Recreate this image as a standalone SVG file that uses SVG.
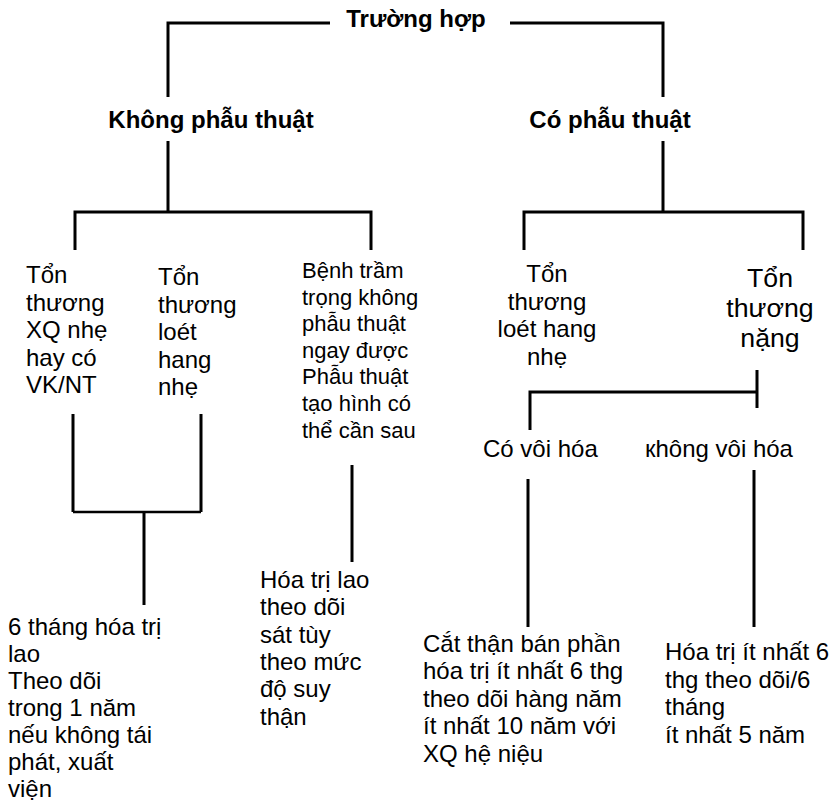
<svg xmlns="http://www.w3.org/2000/svg" width="835" height="804" viewBox="0 0 835 804">
<style>
text{font-family:"Liberation Sans",Arial,sans-serif;fill:#000;font-size:24px}
.b{font-weight:bold}
.c{text-anchor:middle}
.big{font-size:26.7px}
.sm{font-size:22px}
.ln{stroke:#000;stroke-width:3;fill:none}
.thin{stroke:#000;stroke-width:2.5;fill:none}
</style>
<rect width="835" height="804" fill="#fff"/>
<g id="connectors">
<path class="ln" d="M168 97V23H330M510 23H663V97"/>
<path class="ln" d="M168 141V212M75 250V212H371V250"/>
<path class="ln" d="M663 141V212M524 250V212H803V250"/>
<path class="ln" d="M73 414V512M201 414V512M144 512V605"/>
<path class="thin" d="M73 512H201"/>
<path class="ln" d="M352 465V562"/>
<path class="ln" d="M757 370V408M757 392H530V430"/>
<path class="ln" d="M528 479V627M754 470V627"/>
</g>
<g id="root"><text class="b c" x="416" y="27">Trường hợp</text></g>
<g id="khong-phau-thuat"><text class="b c" x="211" y="128">Không phẫu thuật</text></g>
<g id="co-phau-thuat"><text class="b c" x="610" y="128">Có phẫu thuật</text></g>
<g id="ton-thuong-xq"><text x="26" y="283"><tspan x="26">Tổn</tspan><tspan x="26" dy="27.5">thương</tspan><tspan x="26" dy="27.5">XQ nhẹ</tspan><tspan x="26" dy="27.5">hay có</tspan><tspan x="26" dy="27.5">VK/NT</tspan></text></g>
<g id="ton-thuong-loet"><text x="158" y="285"><tspan x="158">Tổn</tspan><tspan x="158" dy="27.5">thương</tspan><tspan x="158" dy="27.5">loét</tspan><tspan x="158" dy="27.5">hang</tspan><tspan x="158" dy="27.5">nhẹ</tspan></text></g>
<g id="benh-tram-trong"><text class="sm" x="302" y="278"><tspan x="302">Bệnh trầm</tspan><tspan x="302" dy="26.6">trọng không</tspan><tspan x="302" dy="26.6">phẫu thuật</tspan><tspan x="302" dy="26.6">ngay được</tspan><tspan x="302" dy="26.6">Phẫu thuật</tspan><tspan x="302" dy="26.6">tạo hình có</tspan><tspan x="302" dy="26.6">thể cần sau</tspan></text></g>
<g id="sau-thang"><text x="8" y="635"><tspan x="8">6 tháng hóa trị</tspan><tspan x="8" dy="27">lao</tspan><tspan x="8" dy="27">Theo dõi</tspan><tspan x="8" dy="27">trong 1 năm</tspan><tspan x="8" dy="27">nếu không tái</tspan><tspan x="8" dy="27">phát, xuất</tspan><tspan x="8" dy="27">viện</tspan></text></g>
<g id="hoa-tri-lao"><text x="260" y="588"><tspan x="260">Hóa trị lao</tspan><tspan x="260" dy="27.3">theo dõi</tspan><tspan x="260" dy="27.3">sát tùy</tspan><tspan x="260" dy="27.3">theo mức</tspan><tspan x="260" dy="27.3">độ suy</tspan><tspan x="260" dy="27.3">thận</tspan></text></g>
<g id="loet-hang-nhe"><text class="c" x="547" y="282"><tspan x="547">Tổn</tspan><tspan x="547" dy="27.5">thương</tspan><tspan x="547" dy="27.5">loét hang</tspan><tspan x="547" dy="27.5">nhẹ</tspan></text></g>
<g id="ton-thuong-nang"><text class="c big" x="770" y="287"><tspan x="770">Tổn</tspan><tspan x="770" dy="30">thương</tspan><tspan x="770" dy="30">nặng</tspan></text></g>
<g id="co-voi-hoa"><text x="483" y="457">Có vôi hóa</text></g>
<g id="khong-voi-hoa"><text x="645" y="457">кhông vôi hóa</text></g>
<g id="cat-than"><text x="423" y="652"><tspan x="423">Cắt thận bán phần</tspan><tspan x="423" dy="27.4">hóa trị ít nhất 6 thg</tspan><tspan x="423" dy="27.4">theo dõi hàng năm</tspan><tspan x="423" dy="27.4">ít nhất 10 năm với</tspan><tspan x="423" dy="27.4">XQ hệ niệu</tspan></text></g>
<g id="hoa-tri-it-nhat"><text x="665" y="660"><tspan x="665">Hóa trị ít nhất 6</tspan><tspan x="665" dy="27.5">thg theo dõi/6</tspan><tspan x="665" dy="27.5">tháng</tspan><tspan x="665" dy="27.5">ít nhất 5 năm</tspan></text></g>
</svg>
